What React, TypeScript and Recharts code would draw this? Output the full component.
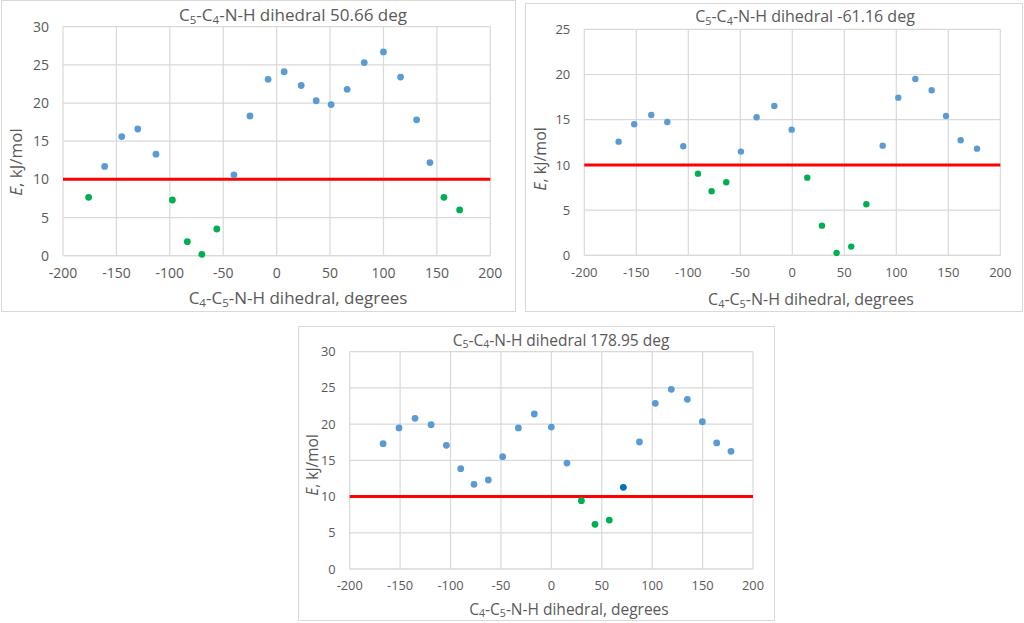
import React from 'react';
import { CartesianGrid, ReferenceLine, Scatter, ScatterChart, XAxis, YAxis } from 'recharts';

// Torsion scan energies, one panel per fixed C5-C4-N-H dihedral
const xTicks = [-200, -150, -100, -50, 0, 50, 100, 150, 200];
const yTicks30 = [0, 5, 10, 15, 20, 25, 30];
const yTicks25 = [0, 5, 10, 15, 20, 25];

const scanA_blueAngle = [-161, -145, -130, -113, -40, -25, -8, 7, 23, 37, 51, 66, 82, 100, 116, 131, 143.5];
const scanA_blueE = [11.7, 15.6, 16.6, 13.3, 10.6, 18.3, 23.1, 24.1, 22.3, 20.3, 19.8, 21.8, 25.3, 26.7, 23.4, 17.8, 12.2];
const scanA_greenAngle = [-176, -97.6, -83.6, -70, -56, 156.6, 171.3];
const scanA_greenE = [7.65, 7.3, 1.84, 0.18, 3.5, 7.65, 6.0];

const scanB_blueAngle = [-167, -152, -135.6, -120.2, -104.8, -49.4, -34.3, -17.3, -0.6, 86.9, 101.9, 118.3, 134, 147.8, 161.9, 177.6];
const scanB_blueE = [12.57, 14.49, 15.52, 14.75, 12.06, 11.47, 15.27, 16.52, 13.9, 12.13, 17.44, 19.51, 18.25, 15.41, 12.72, 11.8];
const scanB_greenAngle = [-90.7, -77.6, -63.5, 14.4, 28.5, 42.6, 56.7, 71.2];
const scanB_greenE = [9.03, 7.08, 8.08, 8.59, 3.28, 0.26, 0.96, 5.64];

const scanC_blueAngle = [-166.9, -151.1, -135.2, -119.3, -104.1, -89.9, -76.7, -62.5, -48.3, -32.7, -16.9, 0, 15.5, 87.4, 103.1, 119, 134.9, 149.8, 164, 178.2];
const scanC_blueE = [17.3, 19.47, 20.8, 19.93, 17.07, 13.85, 11.69, 12.29, 15.51, 19.47, 21.4, 19.6, 14.63, 17.53, 22.87, 24.8, 23.42, 20.34, 17.4, 16.24];
const scanC_darkAngle = [71.4];
const scanC_darkE = [11.27];
const scanC_greenAngle = [29.8, 43.3, 57.5];
const scanC_greenE = [9.43, 6.17, 6.76];

const threshold = 10;

const BLUE = '#5b9bd5';
const GREEN = '#00b050';
const DARK = '#0070c0';
const GRID = '#d9d9d9';
const TEXT = '#595959';
const FONT = '"Open Sans", "Noto Sans", sans-serif';

const zip = (xs: number[], ys: number[]) => xs.map((x, i) => ({ x, y: ys[i] }));

type Part = [string, boolean?];

// text with subscript runs, e.g. C5-C4
function SubText({ x, y, size, parts, rotate }: { x: number; y: number; size: number; parts: Part[]; rotate?: boolean }) {
  let inSub = false;
  const shift = size * 0.28;
  return (
    <text
      x={x}
      y={y}
      fontSize={size}
      fill={TEXT}
      fontFamily={FONT}
      textAnchor="middle"
      dominantBaseline="central"
      transform={rotate ? `rotate(-90 ${x} ${y})` : undefined}
    >
      {parts.map(([t, sub], i) => {
        let dy = 0;
        if (sub && !inSub) dy = shift;
        if (!sub && inSub) dy = -shift;
        inSub = !!sub;
        return (
          <tspan key={i} dy={dy} fontSize={sub ? size * 0.68 : size} fontStyle={t === 'E' ? 'italic' : undefined}>
            {t}
          </tspan>
        );
      })}
    </text>
  );
}

const titleParts = (angle: string): Part[] => [['C'], ['5', true], ['-C'], ['4', true], [`-N-H dihedral ${angle} deg`]];
const xTitleParts: Part[] = [['C'], ['4', true], ['-C'], ['5', true], ['-N-H dihedral, degrees']];
const yTitleParts: Part[] = [['E'], [', kJ/mol']];

interface Series {
  data: { x: number; y: number }[];
  color: string;
}

interface PanelProps {
  left: number;
  top: number;
  width: number;
  height: number;
  plot: { l: number; r: number; t: number; b: number };
  yMax: number;
  yTicks: number[];
  series: Series[];
  angle: string;
  tickSize: number;
  titleSize: number;
  axisTitleSize: number;
  title: [number, number];
  xTitle: [number, number];
  yTitle: [number, number];
  dot: number;
}

function Panel(p: PanelProps) {
  const yAxisWidth = 40;
  const xAxisHeight = 30;
  const margin = {
    top: p.plot.t,
    left: p.plot.l - yAxisWidth,
    right: p.width - p.plot.r,
    bottom: p.height - p.plot.b - xAxisHeight,
  };
  const tick = { fontSize: p.tickSize, fill: TEXT, fontFamily: FONT };
  return (
    <div style={{ position: 'absolute', left: p.left, top: p.top, width: p.width, height: p.height, background: '#fff' }}>
      <div style={{ position: 'absolute', inset: 0, border: `1px solid ${GRID}`, boxSizing: 'border-box' }} />
      <div style={{ position: 'absolute', left: 0, top: 0 }}>
        <ScatterChart width={p.width} height={p.height} margin={margin}>
          <CartesianGrid stroke={GRID} strokeWidth={1.2} />
          <XAxis
            dataKey="x"
            type="number"
            domain={[-200, 200]}
            ticks={xTicks}
            interval={0}
            tickLine={false}
            axisLine={{ stroke: GRID, strokeWidth: 1.2 }}
            height={xAxisHeight}
            tickMargin={6}
            tick={tick}
          />
          <YAxis
            dataKey="y"
            type="number"
            domain={[0, p.yMax]}
            ticks={p.yTicks}
            interval={0}
            tickLine={false}
            axisLine={false}
            width={yAxisWidth}
            tickMargin={8}
            tick={tick}
          />
          <ReferenceLine y={threshold} stroke="#ff0000" strokeWidth={3} />
          {p.series.map((s, i) => (
            <Scatter
              key={i}
              data={s.data}
              fill={s.color}
              isAnimationActive={false}
              shape={(d: any) => <circle cx={d.cx} cy={d.cy} r={p.dot} fill={s.color} />}
            />
          ))}
        </ScatterChart>
      </div>
      <svg width={p.width} height={p.height} style={{ position: 'absolute', left: 0, top: 0, pointerEvents: 'none' }}>
        <SubText x={p.title[0]} y={p.title[1]} size={p.titleSize} parts={titleParts(p.angle)} />
        <SubText x={p.xTitle[0]} y={p.xTitle[1]} size={p.axisTitleSize} parts={xTitleParts} />
        <SubText x={p.yTitle[0]} y={p.yTitle[1]} size={p.axisTitleSize} parts={yTitleParts} rotate />
      </svg>
    </div>
  );
}

export default function App() {
  return (
    <div style={{ position: 'absolute', left: 0, top: 0, width: 1024, height: 623, background: '#fff' }}>
      <Panel
        left={1}
        top={0}
        width={515}
        height={312}
        plot={{ l: 62, r: 489.3, t: 26.7, b: 255.7 }}
        yMax={30}
        yTicks={yTicks30}
        series={[
          { data: zip(scanA_blueAngle, scanA_blueE), color: BLUE },
          { data: zip(scanA_greenAngle, scanA_greenE), color: GREEN },
        ]}
        angle="50.66"
        tickSize={14}
        titleSize={17}
        axisTitleSize={17}
        title={[292, 14]}
        xTitle={[297, 297]}
        yTitle={[14, 162]}
        dot={3.4}
      />
      <Panel
        left={525}
        top={3}
        width={498}
        height={309}
        plot={{ l: 59.3, r: 475.3, t: 26.3, b: 252.3 }}
        yMax={25}
        yTicks={yTicks25}
        series={[
          { data: zip(scanB_blueAngle, scanB_blueE), color: BLUE },
          { data: zip(scanB_greenAngle, scanB_greenE), color: GREEN },
        ]}
        angle="-61.16"
        tickSize={13}
        titleSize={16}
        axisTitleSize={16}
        title={[280, 13]}
        xTitle={[286, 296]}
        yTitle={[15, 156]}
        dot={3.2}
      />
      <Panel
        left={298}
        top={326}
        width={477}
        height={295}
        plot={{ l: 51.7, r: 455, t: 25.7, b: 243 }}
        yMax={30}
        yTicks={yTicks30}
        series={[
          { data: zip(scanC_blueAngle, scanC_blueE), color: BLUE },
          { data: zip(scanC_greenAngle, scanC_greenE), color: GREEN },
          { data: zip(scanC_darkAngle, scanC_darkE), color: DARK },
        ]}
        angle="178.95"
        tickSize={12.8}
        titleSize={15.5}
        axisTitleSize={15.5}
        title={[263, 13.7]}
        xTitle={[271, 282.7]}
        yTitle={[14, 139]}
        dot={3.4}
      />
    </div>
  );
}
